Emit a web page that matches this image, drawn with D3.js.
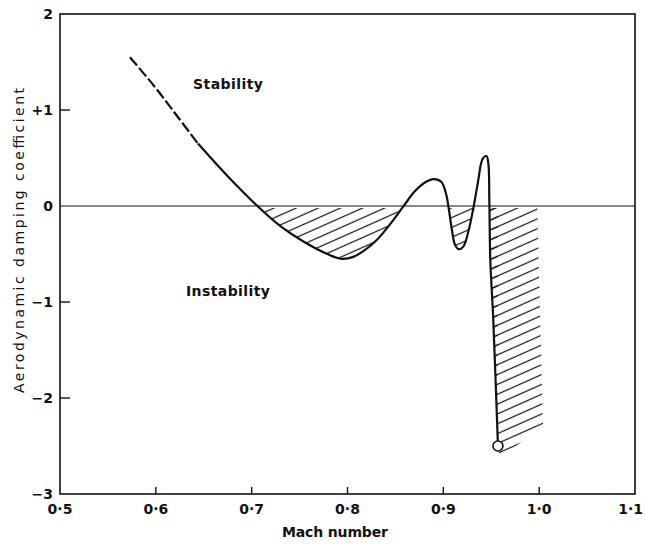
<!DOCTYPE html>
<html lang="en">
<head>
<meta charset="utf-8">
<title>Aerodynamic damping coefficient vs Mach number</title>
<script src="https://d3js.org/d3.v7.min.js"></script>
<style>
  body { margin: 0; background: #fff; }
  #chart text { font-family: "DejaVu Sans", sans-serif; fill: #111; }
</style>
</head>
<body>
<div id="chart"></div>
<script>
// tick values and their printed labels
const xTicks = [0.5, 0.6, 0.7, 0.8, 0.9, 1.0, 1.1];
const xTickLabels = ["0\u00B75", "0\u00B76", "0\u00B77", "0\u00B78", "0\u00B79", "1\u00B70", "1\u00B71"];
const yTicks = [2, 1, 0, -1, -2, -3];
const yTickLabels = ["2", "+1", "0", "\u22121", "\u22122", "\u22123"];

// curve: [mach, coefficient]
const dashedPart = [[0.573, 1.55], [0.599, 1.24], [0.622, 0.94], [0.644, 0.65]];
const solidPart = [
  [0.644, 0.65], [0.674, 0.32], [0.706, 0.0], [0.730, -0.21], [0.754, -0.37],
  [0.779, -0.50], [0.794, -0.55], [0.806, -0.53], [0.818, -0.46], [0.830, -0.36],
  [0.842, -0.22], [0.852, -0.09], [0.860, 0.02],
  [0.870, 0.15], [0.880, 0.24], [0.890, 0.28], [0.898, 0.25], [0.903, 0.12],
  [0.906, -0.05], [0.909, -0.25], [0.912, -0.40], [0.916, -0.45], [0.921, -0.42],
  [0.926, -0.27], [0.931, -0.04], [0.936, 0.24], [0.941, 0.49], [0.945, 0.52],
  [0.947, 0.44], [0.948, 0.06], [0.949, -0.56], [0.952, -1.16], [0.957, -2.5]
];
const endPoint = [0.957, -2.5];
// outline of the hatched band beyond the drop
const shockBand = [[0.949, 0], [0.949, -0.56], [0.952, -1.16], [0.957, -2.5],
                   [0.959, -2.63], [1.004, -2.28], [0.998, 0]];

const W = 645, H = 548;
const svg = d3.select("#chart").append("svg")
  .attr("width", W).attr("height", H);

const x = d3.scaleLinear().domain([0.5, 1.1]).range([60, 635]);
const y = d3.scaleLinear().domain([-3, 2]).range([494, 14]);

// hatch pattern
const defs = svg.append("defs");
const pat = defs.append("pattern")
  .attr("id", "hatch")
  .attr("patternUnits", "userSpaceOnUse")
  .attr("width", 20).attr("height", 9)
  .attr("patternTransform", "rotate(-24)");
pat.append("line")
  .attr("x1", 0).attr("x2", 20).attr("y1", 4.5).attr("y2", 4.5)
  .attr("stroke", "#111").attr("stroke-width", 1.2);

defs.append("clipPath").attr("id", "below")
  .append("rect")
  .attr("x", x(0.5)).attr("y", y(0) + 2)
  .attr("width", x(1.1) - x(0.5)).attr("height", y(-3) - y(0) - 2);

const hatch = svg.append("g").attr("clip-path", "url(#below)");
hatch.append("path")
  .datum(solidPart)
  .attr("d", d3.area()
    .x(d => x(d[0])).y0(y(0)).y1(d => y(d[1]))
    .curve(d3.curveCatmullRom.alpha(0.5)))
  .attr("fill", "url(#hatch)");
hatch.append("path")
  .datum(shockBand)
  .attr("d", d3.line().x(d => x(d[0])).y(d => y(d[1])).curve(d3.curveLinearClosed))
  .attr("fill", "url(#hatch)");

// zero line
svg.append("line")
  .attr("x1", x(0.5)).attr("x2", x(1.1))
  .attr("y1", y(0)).attr("y2", y(0))
  .attr("stroke", "#111").attr("stroke-width", 1.1);

// frame
svg.append("rect")
  .attr("x", x(0.5)).attr("y", y(2))
  .attr("width", x(1.1) - x(0.5)).attr("height", y(-3) - y(2))
  .attr("fill", "none").attr("stroke", "#111").attr("stroke-width", 1.6);

// inward ticks
svg.append("g").selectAll("line")
  .data(xTicks.slice(1, -1)).join("line")
  .attr("x1", d => x(d)).attr("x2", d => x(d))
  .attr("y1", y(-3)).attr("y2", y(-3) - 7)
  .attr("stroke", "#111").attr("stroke-width", 1.4);
svg.append("g").selectAll("line")
  .data(yTicks.filter(d => d !== 0 && d !== 2 && d !== -3)).join("line")
  .attr("x1", x(0.5)).attr("x2", x(0.5) + 10)
  .attr("y1", d => y(d)).attr("y2", d => y(d))
  .attr("stroke", "#111").attr("stroke-width", 1.4);

// tick labels (last one kept inside the page)
svg.append("g").selectAll("text")
  .data(xTicks).join("text")
  .attr("x", (d, i) => i === xTicks.length - 1 ? W - 2 : x(d))
  .attr("y", 514)
  .attr("text-anchor", (d, i) => i === xTicks.length - 1 ? "end" : "middle")
  .attr("font-size", 14).attr("font-weight", "bold")
  .text((d, i) => xTickLabels[i]);
svg.append("g").selectAll("text")
  .data(yTicks).join("text")
  .attr("x", 53).attr("y", d => y(d) + 5)
  .attr("text-anchor", "end")
  .attr("font-size", 14).attr("font-weight", "bold")
  .text((d, i) => yTickLabels[i]);

// curve
const line = d3.line().x(d => x(d[0])).y(d => y(d[1])).curve(d3.curveCatmullRom.alpha(0.5));
svg.append("path").datum(dashedPart)
  .attr("d", line).attr("fill", "none")
  .attr("stroke", "#111").attr("stroke-width", 2.2)
  .attr("stroke-dasharray", "11,3");
svg.append("path").datum(solidPart)
  .attr("d", line).attr("fill", "none")
  .attr("stroke", "#111").attr("stroke-width", 2.2)
  .attr("stroke-linejoin", "round");
svg.append("circle")
  .attr("cx", x(endPoint[0])).attr("cy", y(endPoint[1])).attr("r", 5)
  .attr("fill", "#fff").attr("stroke", "#111").attr("stroke-width", 1.6);

// annotations
svg.append("text").attr("x", 193).attr("y", 89)
  .attr("font-size", 14).attr("font-weight", "bold")
  .attr("textLength", 70).attr("lengthAdjust", "spacing")
  .text("Stability");
svg.append("text").attr("x", 186).attr("y", 296)
  .attr("font-size", 14).attr("font-weight", "bold")
  .attr("textLength", 84).attr("lengthAdjust", "spacing")
  .text("Instability");

// axis titles
svg.append("text").attr("x", 282).attr("y", 537)
  .attr("font-size", 14).attr("font-weight", "bold")
  .attr("textLength", 106).attr("lengthAdjust", "spacing")
  .text("Mach number");
svg.append("text")
  .attr("transform", "translate(24,393) rotate(-90)")
  .attr("font-size", 14)
  .attr("textLength", 305).attr("lengthAdjust", "spacing")
  .text("Aerodynamic damping coefficient");
</script>
</body>
</html>
